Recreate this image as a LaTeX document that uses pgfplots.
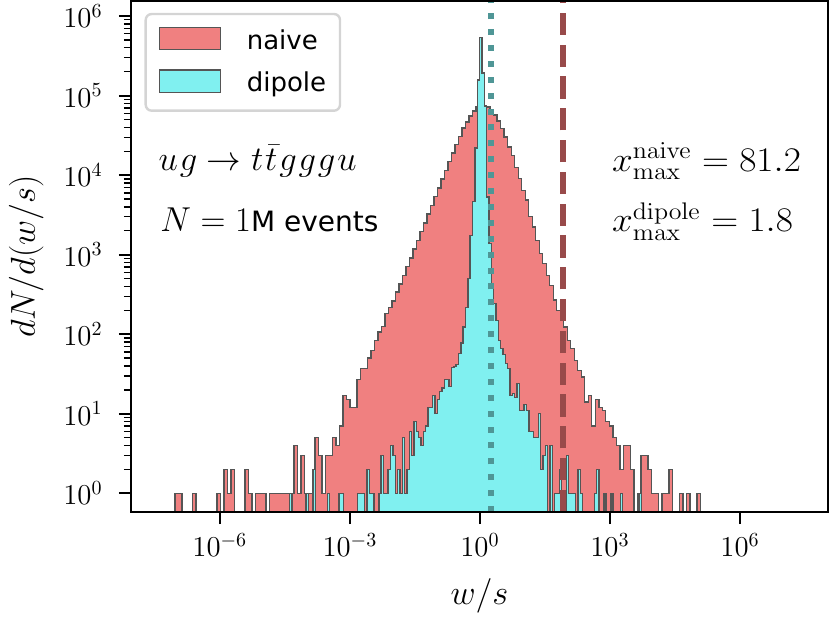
\documentclass[border=0pt]{standalone}
\usepackage[no-math]{fontspec}
\setmainfont{DejaVu Sans}
\usepackage{pgfplots}
\usepackage{pgfplotstable}
\pgfplotsset{compat=1.18}

\definecolor{naivec}{RGB}{240,128,128}
\definecolor{dipolec}{RGB}{128,240,240}
\definecolor{edgec}{RGB}{85,85,85}
\definecolor{dotc}{RGB}{79,150,150}
\definecolor{dashc}{RGB}{152,74,74}
\definecolor{legc}{RGB}{212,212,212}

% naive: log10 of left bin edge, count
\pgfplotstableread{
lx c
-7.039 0
-7.039 1
-6.958 1
-6.877 0
-6.797 0
-6.716 0
-6.635 1
-6.554 0
-6.473 0
-6.392 0
-6.312 0
-6.231 0
-6.150 0
-6.069 1
-5.988 0
-5.907 2
-5.827 1
-5.746 2
-5.665 0
-5.584 0
-5.503 0
-5.422 2
-5.342 1
-5.261 0
-5.180 1
-5.099 1
-5.018 1
-4.937 0
-4.857 1
-4.776 1
-4.695 1
-4.614 1
-4.533 1
-4.452 1
-4.372 1
-4.291 4
-4.210 1
-4.129 3
-4.048 1
-3.967 1
-3.887 1
-3.806 5
-3.725 3
-3.644 1
-3.563 3
-3.482 3
-3.402 5
-3.321 4
-3.240 7
-3.159 17
-3.078 15
-2.997 12
-2.917 12
-2.836 27
-2.755 37
-2.674 37
-2.593 50
-2.512 63
-2.432 83
-2.351 107
-2.270 126
-2.189 182
-2.108 216
-2.027 262
-1.947 341
-1.866 426
-1.785 550
-1.704 708
-1.623 912
-1.542 1175
-1.462 1514
-1.381 1950
-1.300 2512
-1.219 3236
-1.138 4169
-1.057 5370
-0.977 6918
-0.896 8913
-0.815 11480
-0.734 14790
-0.653 19050
-0.572 24300
-0.492 30900
-0.411 39360
-0.330 46770
-0.249 55720
-0.168 63830
-0.087 72440
-0.007 75860
0.074 75860
0.155 72440
0.236 63100
0.317 56890
0.398 47860
0.478 38900
0.559 30200
0.640 22650
0.721 17780
0.802 12590
0.883 9080
0.963 6460
1.044 4850
1.125 3020
1.206 2240
1.287 1510
1.368 1035
1.448 776
1.529 550
1.610 413
1.691 270
1.772 200
1.853 150
1.933 123
2.014 84
2.095 66
2.176 47
2.257 35
2.338 29
2.418 14
2.499 17
2.580 7
2.661 15
2.742 12
2.823 11
2.903 8
2.984 7
3.065 5
3.146 4
3.227 2
3.308 4
3.388 4
3.469 2
3.550 0
3.631 1
3.712 3
3.793 3
3.873 2
3.954 1
4.035 1
4.116 0
4.197 1
4.278 1
4.358 2
4.439 0
4.520 0
4.601 1
4.682 0
4.763 1
4.843 0
4.924 0
5.005 1
5.086 1
5.086 0
}\naive

% dipole: log10 of left bin edge, count
\pgfplotstableread{
lx c
-4.388 0
-4.388 1
-4.334 0
-4.280 0
-4.226 0
-4.172 0
-4.118 0
-4.064 0
-4.010 1
-3.955 0
-3.901 0
-3.847 2
-3.793 0
-3.739 0
-3.685 0
-3.631 0
-3.577 0
-3.523 1
-3.469 0
-3.415 0
-3.361 0
-3.307 0
-3.253 1
-3.199 1
-3.144 0
-3.090 0
-3.036 0
-2.982 0
-2.928 0
-2.874 0
-2.820 1
-2.766 1
-2.712 1
-2.658 0
-2.604 2
-2.550 1
-2.496 1
-2.442 0
-2.387 0
-2.333 1
-2.279 3
-2.225 1
-2.171 1
-2.117 2
-2.063 4
-2.009 3
-1.955 1
-1.901 2
-1.847 1
-1.793 5
-1.739 1
-1.684 2
-1.630 6
-1.576 3
-1.522 8
-1.468 6
-1.414 5
-1.360 4
-1.306 6
-1.252 7
-1.198 12
-1.144 12
-1.090 17
-1.036 10
-0.982 15
-0.927 19
-0.873 21
-0.819 27
-0.765 27
-0.711 22
-0.657 38
-0.603 39
-0.549 42
-0.495 57
-0.441 78
-0.387 124
-0.333 217
-0.279 500
-0.225 1760
-0.170 4700
-0.116 22000
-0.062 156700
-0.008 540000
0.046 193600
0.100 74000
0.154 5300
0.208 1380
0.262 394
0.316 243
0.370 150
0.424 84
0.478 66
0.533 56
0.587 43
0.641 37
0.695 17
0.749 18
0.803 16
0.857 24
0.911 11
0.965 11
1.019 13
1.073 11
1.127 6
1.181 6
1.235 5
1.290 5
1.344 10
1.398 2
1.452 3
1.506 4
1.560 0
1.614 4
1.668 0
1.722 1
1.776 1
1.830 2
1.884 1
1.938 0
1.992 3
2.047 1
2.101 1
2.155 1
2.209 0
2.263 2
2.317 1
2.371 0
2.425 0
2.479 0
2.533 0
2.587 0
2.641 1
2.695 2
2.749 0
2.804 0
2.858 1
2.912 0
2.966 0
3.020 1
3.074 0
3.128 0
3.182 0
3.236 1
3.290 0
3.344 0
3.398 0
3.452 0
3.506 0
3.561 0
3.615 0
3.669 1
3.723 1
3.723 0
}\dipole

\begin{document}
\begin{tikzpicture}
\begin{axis}[
  at={(0pt,0pt)}, anchor=south west,
  scale only axis, width=348.5pt, height=255.5pt,
  xmode=log, ymode=log,
  xmin=8.91e-9, xmax=1.07e8,
  ymin=0.582, ymax=1.55e6,
  xtick={1e-6,1e-3,1,1e3,1e6},
  ytick={1,10,100,1000,10000,100000,1000000},
  xminorticks=false,
  tick align=outside, tick pos=left,
  major tick length=6pt, minor tick length=3.5pt,
  major tick style={line width=1.1pt, black},
  minor tick style={line width=0.7pt, black},
  axis line style={line width=1.3pt},
  axis on top,
  tick label style={font=\fontsize{14}{16}\selectfont, inner sep=0pt},
  xticklabel shift=4.5pt, yticklabel shift=8pt,
  xlabel={$w/s$}, ylabel={$dN/d(w/s)$},
  every axis x label/.style={at={([yshift=-33pt]axis description cs:0.5,0)}, anchor=north, inner sep=0pt, font=\fontsize{18}{20}\selectfont},
  every axis y label/.style={at={([xshift=-48pt]axis description cs:0,0.5)}, rotate=90, anchor=base, inner sep=0pt, font=\fontsize{18}{20}\selectfont},
]
\addplot[const plot mark left, fill=naivec, draw=edgec, line width=0.7pt, mark=none]
  table[x expr={10^(\thisrow{lx})}, y expr={max(\thisrow{c},0.01)}] {\naive};
\addplot[const plot mark left, fill=dipolec, draw=edgec, line width=0.7pt, mark=none]
  table[x expr={10^(\thisrow{lx})}, y expr={max(\thisrow{c},0.01)}] {\dipole};
\addplot[dotc, line width=3pt, dash pattern=on 3pt off 4.95pt, mark=none]
  coordinates {(1.8,0.582) (1.8,1.55e6)};
\addplot[dashc, line width=3pt, dash pattern=on 11.1pt off 4.8pt, mark=none]
  coordinates {(81.2,0.582) (81.2,1.55e6)};
\end{axis}
% legend
\draw[legc, line width=1.2pt, fill=white, rounded corners=3pt] (7.35pt,200.65pt) rectangle (104.5pt,249pt);
\draw[edgec, line width=0.6pt, fill=naivec] (14.15pt,231.35pt) rectangle (44.85pt,242.35pt);
\draw[edgec, line width=0.6pt, fill=dipolec] (14.15pt,209.85pt) rectangle (44.85pt,221pt);
\node[anchor=base west, inner sep=0pt, font=\fontsize{13}{15}\selectfont] at (57.7pt,231.35pt) {naive};
\node[anchor=base west, inner sep=0pt, font=\fontsize{13}{15}\selectfont] at (57.7pt,210.2pt) {dipole};
% annotations
\node[anchor=base west, inner sep=0pt, font=\fontsize{18}{20}\selectfont] at (13.65pt,170.65pt) {$u\mkern1mu g \to t\mkern1mu\bar{t}\mkern1mu g\mkern1mu g\mkern1mu g\mkern1mu u$};
\node[anchor=base west, inner sep=0pt, font=\fontsize{18}{20}\selectfont] at (14.5pt,140.3pt) {$N = 1${\fontsize{14}{16}\selectfont M events}};
\node[anchor=base west, inner sep=0pt, xscale=1.08, font=\fontsize{18}{20}\selectfont] at (240.35pt,170.3pt) {$x_{\max}^{\mathrm{naive}} = 81.2$};
\node[anchor=base west, inner sep=0pt, xscale=1.08, font=\fontsize{18}{20}\selectfont] at (240.35pt,140.2pt) {$x_{\max}^{\mathrm{dipole}} = 1.8$};
\pgfresetboundingbox
\path[use as bounding box] (-65.5pt,-55pt) rectangle (349.5pt,256pt);
\end{tikzpicture}
\end{document}
